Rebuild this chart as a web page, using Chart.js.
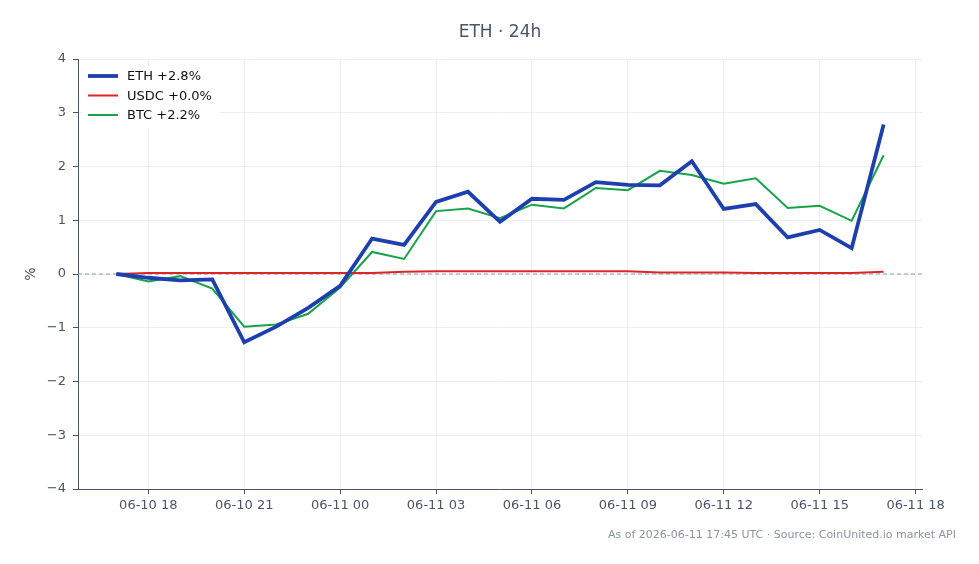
<!DOCTYPE html>
<html>
<head>
<meta charset="utf-8">
<script src="https://cdn.jsdelivr.net/npm/chart.js@4/dist/chart.umd.min.js"></script>
<style>
  html, body { margin: 0; padding: 0; background: #fff; }
  #wrap { width: 979px; height: 564px; }
</style>
</head>
<body>
<div id="wrap"><canvas id="myChart" width="979" height="564"></canvas></div>
<script>
// hourly points, hours counted from 06-10 00:00
var hours = [17, 18, 19, 20, 21, 22, 23, 24, 25, 26, 27, 28, 29, 30, 31, 32, 33, 34, 35, 36, 37, 38, 39, 40, 41];

var ethValues = [0.00, -0.07, -0.12, -0.10, -1.27, -0.98, -0.63, -0.22, 0.66, 0.54, 1.34, 1.53, 0.97, 1.40, 1.38, 1.71, 1.66, 1.65, 2.10, 1.21, 1.30, 0.68, 0.82, 0.48, 2.78];
var usdcValues = [0.00, 0.02, 0.02, 0.02, 0.02, 0.02, 0.02, 0.02, 0.02, 0.04, 0.05, 0.05, 0.05, 0.05, 0.05, 0.05, 0.05, 0.03, 0.03, 0.03, 0.02, 0.02, 0.02, 0.02, 0.04];
var btcValues = [0.00, -0.14, -0.04, -0.27, -0.98, -0.94, -0.74, -0.25, 0.41, 0.28, 1.17, 1.22, 1.04, 1.29, 1.22, 1.60, 1.56, 1.92, 1.84, 1.68, 1.78, 1.23, 1.27, 0.99, 2.21];

var seriesNames = ['ETH +2.8%', 'USDC +0.0%', 'BTC +2.2%'];

var xTickHours = [18, 21, 24, 27, 30, 33, 36, 39, 42];
var xTickLabels = ['06-10 18', '06-10 21', '06-11 00', '06-11 03', '06-11 06', '06-11 09', '06-11 12', '06-11 15', '06-11 18'];

var titleText = 'ETH \u00b7 24h';
var footerText = 'As of 2026-06-11 17:45 UTC \u00b7 Source: CoinUnited.io market API';

var FONT = '"DejaVu Sans", sans-serif';
var SLATE = '#4a5568';

function toPoints(vals) {
    return vals.map(function(v, i) { return { x: hours[i], y: v }; });
}

// title, zero line, legend and footer
var extras = {
    id: 'extras',
    beforeDatasetsDraw: function(chart) {
        var ctx = chart.ctx, area = chart.chartArea;
        var y0 = chart.scales.y.getPixelForValue(0);
        ctx.save();
        ctx.strokeStyle = '#8b9dbb';
        ctx.lineWidth = 1;
        ctx.setLineDash([4, 3]);
        ctx.beginPath();
        ctx.moveTo(area.left, y0);
        ctx.lineTo(area.right, y0);
        ctx.stroke();
        ctx.restore();
    },
    afterDraw: function(chart) {
        var ctx = chart.ctx, area = chart.chartArea;
        ctx.save();
        // title
        ctx.fillStyle = SLATE;
        ctx.font = '17px ' + FONT;
        ctx.textAlign = 'center';
        ctx.textBaseline = 'middle';
        ctx.fillText(titleText, (area.left + area.right) / 2, 33);

        // legend
        ctx.fillStyle = 'rgba(255,255,255,0.85)';
        ctx.fillRect(area.left + 4, area.top + 6, 138, 64);
        ctx.font = '13px ' + FONT;
        ctx.textAlign = 'left';
        chart.data.datasets.forEach(function(ds, i) {
            var ly = area.top + 17 + i * 19.5;
            ctx.strokeStyle = ds.borderColor;
            ctx.lineWidth = ds.borderWidth;
            ctx.beginPath();
            ctx.moveTo(area.left + 10, ly);
            ctx.lineTo(area.left + 40, ly);
            ctx.stroke();
            ctx.fillStyle = '#111';
            ctx.fillText(ds.label, area.left + 49, ly + 1);
        });

        // footer
        ctx.fillStyle = '#8a94a3';
        ctx.font = '11px ' + FONT;
        ctx.textAlign = 'right';
        ctx.fillText(footerText, 956, 535);
        ctx.restore();
    }
};

var ctx = document.getElementById('myChart');
var myChart = new Chart(ctx, {
    type: 'line',
    data: {
        datasets: [{
            label: seriesNames[0],
            data: toPoints(ethValues),
            borderColor: '#1e40af',
            borderWidth: 3.8,
            pointRadius: 0,
            tension: 0
        }, {
            label: seriesNames[1],
            data: toPoints(usdcValues),
            borderColor: '#dc2626',
            borderWidth: 2,
            pointRadius: 0,
            tension: 0
        }, {
            label: seriesNames[2],
            data: toPoints(btcValues),
            borderColor: '#16a34a',
            borderWidth: 2,
            pointRadius: 0,
            tension: 0
        }]
    },
    options: {
        responsive: false,
        animation: false,
        devicePixelRatio: 1,
        layout: { padding: { top: 59, right: 57, bottom: 0, left: 0 } },
        plugins: {
            legend: { display: false },
            title: { display: false },
            tooltip: { enabled: false }
        },
        scales: {
            x: {
                type: 'linear',
                min: 15.8,
                max: 42.2,
                afterBuildTicks: function(scale) {
                    scale.ticks = xTickHours.map(function(h) { return { value: h }; });
                },
                afterFit: function(scale) { scale.height = 75; },
                ticks: {
                    color: SLATE,
                    font: { family: FONT, size: 13 },
                    padding: 4,
                    maxRotation: 0,
                    autoSkip: false,
                    callback: function(v, i) { return xTickLabels[i]; }
                },
                grid: { color: '#eceff3', tickColor: SLATE, tickLength: 5 },
                border: { color: SLATE, width: 1 }
            },
            y: {
                min: -4,
                max: 4,
                afterFit: function(scale) { scale.width = 78; },
                ticks: {
                    stepSize: 1,
                    color: SLATE,
                    font: { family: FONT, size: 13 },
                    padding: 7,
                    callback: function(v) { return v < 0 ? '\u2212' + Math.abs(v) : String(v); }
                },
                title: {
                    display: true,
                    text: '%',
                    color: SLATE,
                    font: { family: FONT, size: 14 },
                    padding: { top: 23, bottom: 0 }
                },
                grid: { color: '#eceff3', tickColor: SLATE, tickLength: 5 },
                border: { color: SLATE, width: 1 }
            }
        }
    },
    plugins: [extras]
});
</script>
</body>
</html>
